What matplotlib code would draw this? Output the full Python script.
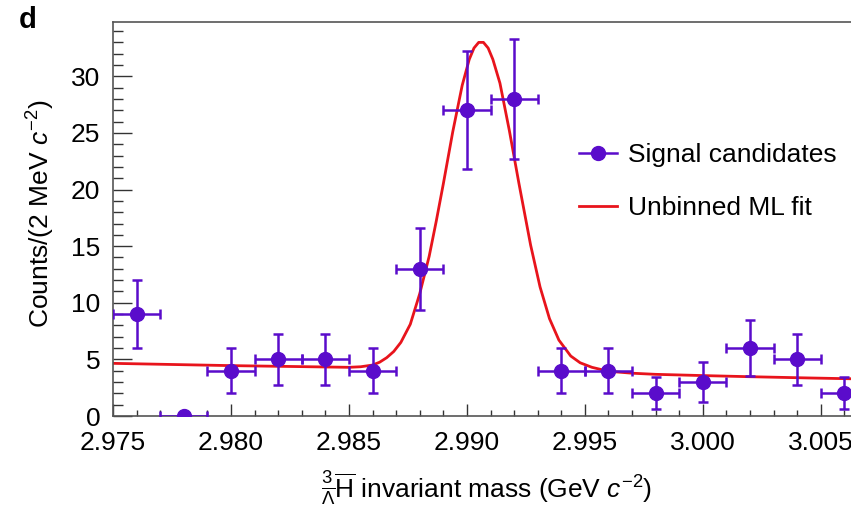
import matplotlib
matplotlib.use("Agg")
import matplotlib.pyplot as plt
from matplotlib.lines import Line2D
from matplotlib.ticker import MultipleLocator, FormatStrFormatter

# Binned candidates (bin centres, counts, sqrt(N) errors, half bin width)
mass = [2.976, 2.978, 2.980, 2.982, 2.984, 2.986, 2.988, 2.990,
        2.992, 2.994, 2.996, 2.998, 3.000, 3.002, 3.004, 3.006]
counts = [9, 0, 4, 5, 5, 4, 13, 27, 28, 4, 4, 2, 3, 6, 5, 2]
count_err = [3.0, 0.0, 2.0, 2.24, 2.24, 2.0, 3.61, 5.2,
             5.29, 2.0, 2.0, 1.41, 1.73, 2.45, 2.24, 1.41]
half_bin = [0.001] * len(mass)

# Unbinned ML fit curve
fit_x = [2.9750, 2.9800, 2.9850, 2.9855, 2.9860, 2.9863, 2.9866, 2.9869,
         2.9872, 2.9876, 2.9880, 2.9884, 2.9887, 2.9890, 2.9894, 2.9898,
         2.9901, 2.9903, 2.9905, 2.9907, 2.9909, 2.9911, 2.9914, 2.9918,
         2.9922, 2.9927, 2.9931, 2.9935, 2.9939, 2.9944, 2.9948, 2.9953,
         2.9960, 2.9970, 2.9980, 3.0000, 3.0020, 3.0045, 3.0070]
fit_y = [4.65, 4.45, 4.30, 4.35, 4.50, 4.75, 5.15, 5.70,
         6.50, 8.10, 10.8, 14.1, 17.2, 20.5, 25.1, 29.2,
         31.5, 32.5, 33.0, 33.0, 32.5, 31.5, 29.4, 25.2,
         20.6, 15.1, 11.4, 8.6, 6.7, 5.3, 4.7, 4.3,
         3.95, 3.78, 3.68, 3.57, 3.47, 3.36, 3.26]

purple = "#5a0ccb"
red = "#e8141c"

plt.rcParams["font.family"] = ["Liberation Sans", "DejaVu Sans"]
plt.rcParams["mathtext.fontset"] = "custom"
plt.rcParams["mathtext.rm"] = "Liberation Sans"
plt.rcParams["mathtext.it"] = "Liberation Sans:italic"
plt.rcParams["mathtext.bf"] = "Liberation Sans:bold"

fig = plt.figure(figsize=(8.51, 5.15), dpi=100)
# axes run past the right edge of the picture, like the cropped original
ax = fig.add_axes([113 / 851, 99 / 515, 755 / 851, 394 / 515])

ax.plot(fit_x, fit_y, color=red, lw=2.0, zorder=2)
ax.errorbar(mass, counts, yerr=count_err, xerr=half_bin, fmt="o", color=purple,
            ms=10, elinewidth=1.8, capsize=3.5, capthick=1.8, zorder=3)

ax.set_xlim(2.975, 3.007)
ax.set_ylim(0, 34.8)

ax.xaxis.set_major_locator(MultipleLocator(0.005))
ax.xaxis.set_minor_locator(MultipleLocator(0.001))
ax.xaxis.set_major_formatter(FormatStrFormatter("%.3f"))
ax.yaxis.set_major_locator(MultipleLocator(5))
ax.yaxis.set_minor_locator(MultipleLocator(1))

ax.tick_params(axis="both", which="both", direction="in", colors="#333333",
               labelcolor="black", labelsize=19, top=False, right=False)
ax.tick_params(axis="x", which="major", length=8.6, width=1.0, pad=11)
ax.tick_params(axis="x", which="minor", length=4.3, width=1.0)
ax.tick_params(axis="y", which="major", length=14, width=1.0, pad=9)
ax.tick_params(axis="y", which="minor", length=7.5, width=1.0)

for side in ["left", "bottom", "top"]:
    ax.spines[side].set_color("#555555")
    ax.spines[side].set_linewidth(1.2)
ax.spines["right"].set_visible(False)

ax.set_xlabel(r"$^{3}_{\overline{\Lambda}}\overline{\mathrm{H}}$ invariant mass (GeV $c^{-2}$)",
              fontsize=19)
ax.xaxis.set_label_coords((487 - 113) / 755, (416 - 470) / 394)
ax.set_ylabel(r"Counts/(2 MeV $c^{-2}$)", fontsize=19)
ax.yaxis.set_label_coords((57 - 113) / 755, (416 - 214) / 394)

handles = [Line2D([], [], color=purple, marker="o", ms=10, lw=1.8),
           Line2D([], [], color=red, lw=2.0)]
fig.legend(handles, ["Signal candidates", "Unbinned ML fit"],
           loc="upper left", bbox_to_anchor=(579 / 851, 1 - 143 / 515),
           frameon=False, fontsize=19, handlelength=1.45, handletextpad=0.4,
           labelspacing=1.1, borderpad=0, borderaxespad=0)

fig.text(19 / 851, 1 - 28 / 515, "d", fontsize=21, fontweight="bold")

fig.savefig("out.png", dpi=100)
